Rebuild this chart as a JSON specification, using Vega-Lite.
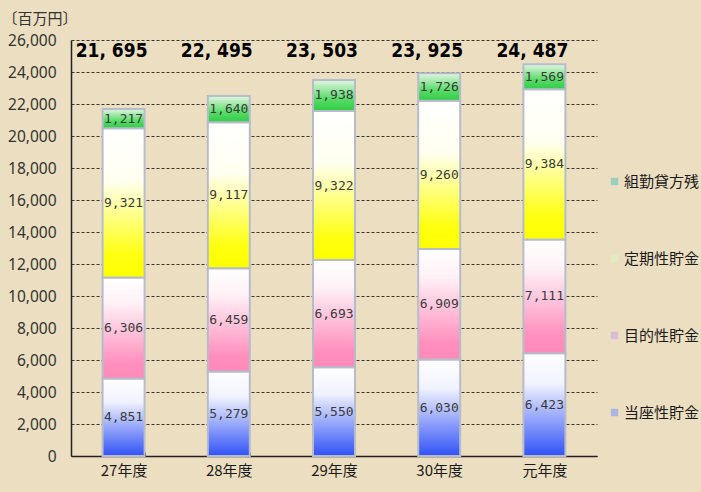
{
  "$schema": "https://vega.github.io/schema/vega-lite/v6.json",
  "width": 526,
  "height": 416,
  "autosize": {"type": "none"},
  "padding": {"left": 71, "top": 40, "right": 104, "bottom": 36},
  "background": "#ecdfc1",
  "config": {
    "view": {"stroke": null},
    "font": "Noto Sans CJK JP",
    "axisY": {
      "titleAngle": 0, "titleAlign": "left", "titleBaseline": "middle",
      "titleX": -69, "titleY": -22, "titleFontSize": 15, "titleFontWeight": "normal", "titleColor": "#333",
      "labelFontSize": 15.5, "labelColor": "#333", "labelFont": "Noto Sans",
      "labelPadding": 15, "ticks": false,
      "grid": true, "gridColor": "#222", "gridDash": [3, 2], "gridWidth": 1, "gridOpacity": 0.9,
      "domainColor": "#222", "domainWidth": 1.5
    }
  },
  "datasets": {
    "seg": [
      {"year": "27年度", "series": "当座性貯金", "k": 1, "value": 4851},
      {"year": "27年度", "series": "目的性貯金", "k": 2, "value": 6306},
      {"year": "27年度", "series": "定期性貯金", "k": 3, "value": 9321},
      {"year": "27年度", "series": "組勤貸方残", "k": 4, "value": 1217},
      {"year": "28年度", "series": "当座性貯金", "k": 1, "value": 5279},
      {"year": "28年度", "series": "目的性貯金", "k": 2, "value": 6459},
      {"year": "28年度", "series": "定期性貯金", "k": 3, "value": 9117},
      {"year": "28年度", "series": "組勤貸方残", "k": 4, "value": 1640},
      {"year": "29年度", "series": "当座性貯金", "k": 1, "value": 5550},
      {"year": "29年度", "series": "目的性貯金", "k": 2, "value": 6693},
      {"year": "29年度", "series": "定期性貯金", "k": 3, "value": 9322},
      {"year": "29年度", "series": "組勤貸方残", "k": 4, "value": 1938},
      {"year": "30年度", "series": "当座性貯金", "k": 1, "value": 6030},
      {"year": "30年度", "series": "目的性貯金", "k": 2, "value": 6909},
      {"year": "30年度", "series": "定期性貯金", "k": 3, "value": 9260},
      {"year": "30年度", "series": "組勤貸方残", "k": 4, "value": 1726},
      {"year": "元年度", "series": "当座性貯金", "k": 1, "value": 6423},
      {"year": "元年度", "series": "目的性貯金", "k": 2, "value": 7111},
      {"year": "元年度", "series": "定期性貯金", "k": 3, "value": 9384},
      {"year": "元年度", "series": "組勤貸方残", "k": 4, "value": 1569}
    ],
    "totals": [
      {"year": "27年度", "total": 21695, "label": "21, 695"},
      {"year": "28年度", "total": 22495, "label": "22, 495"},
      {"year": "29年度", "total": 23503, "label": "23, 503"},
      {"year": "30年度", "total": 23925, "label": "23, 925"},
      {"year": "元年度", "total": 24487, "label": "24, 487"}
    ]
  },
  "layer": [
    {
      "data": {"name": "seg"},
      "transform": [
        {"stack": "value", "groupby": ["year"], "sort": [{"field": "k", "order": "ascending"}], "as": ["s0", "s1"]}
      ],
      "encoding": {
        "x": {
          "field": "year", "type": "nominal", "sort": null,
          "scale": {"paddingInner": 0.6, "paddingOuter": 0.3},
          "axis": {
            "title": null, "labelAngle": 0, "labelFontSize": 15, "labelColor": "#1a1a1a",
            "labelPadding": 11, "domainColor": "#222", "domainWidth": 1.5,
            "ticks": true, "tickBand": "extent", "tickSize": -4, "tickColor": "#333",
            "labelFont": "Noto Sans CJK JP"
          }
        },
        "y": {
          "field": "s0", "type": "quantitative", "title": "〔百万円〕",
          "scale": {"domain": [0, 26000], "nice": false},
          "axis": {"labelExpr": "format(datum.value, ',')", "values": [0, 2000, 4000, 6000, 8000, 10000, 12000, 14000, 16000, 18000, 20000, 22000, 24000, 26000]}
        },
        "y2": {"field": "s1"}
      },
      "layer": [
        {
          "transform": [{"filter": "datum.k == 1"}],
          "mark": {
            "type": "bar", "width": 42, "stroke": "#b6bccb", "strokeWidth": 2,
            "color": {"gradient": "linear", "x1": 0, "y1": 0, "x2": 0, "y2": 1,
              "stops": [{"offset": 0, "color": "#ffffff"}, {"offset": 0.3, "color": "#f0f2ff"}, {"offset": 1, "color": "#3152f6"}]}
          }
        },
        {
          "transform": [{"filter": "datum.k == 2"}],
          "mark": {
            "type": "bar", "width": 42, "stroke": "#b6bccb", "strokeWidth": 2,
            "color": {"gradient": "linear", "x1": 0, "y1": 0, "x2": 0, "y2": 1,
              "stops": [{"offset": 0, "color": "#ffffff"}, {"offset": 0.25, "color": "#fff2f7"}, {"offset": 0.85, "color": "#ff8fbd"}, {"offset": 1, "color": "#ff8ab8"}]}
          }
        },
        {
          "transform": [{"filter": "datum.k == 3"}],
          "mark": {
            "type": "bar", "width": 42, "stroke": "#b6bccb", "strokeWidth": 2,
            "color": {"gradient": "linear", "x1": 0, "y1": 0, "x2": 0, "y2": 1,
              "stops": [{"offset": 0, "color": "#ffffff"}, {"offset": 0.35, "color": "#fffff0"}, {"offset": 0.85, "color": "#ffff10"}, {"offset": 1, "color": "#ffff00"}]}
          }
        },
        {
          "transform": [{"filter": "datum.k == 4"}],
          "mark": {
            "type": "bar", "width": 42, "stroke": "#b6bccb", "strokeWidth": 2,
            "color": {"gradient": "linear", "x1": 0, "y1": 0, "x2": 0, "y2": 1,
              "stops": [{"offset": 0, "color": "#e4f6e4"}, {"offset": 0.6, "color": "#5bdc6a"}, {"offset": 1, "color": "#2fcc45"}]}
          }
        },
        {
          "transform": [{"calculate": "(datum.s0 + datum.s1) / 2", "as": "mid"}],
          "mark": {"type": "text", "fontSize": 13, "color": "#3a3a3a", "font": "DejaVu Sans Mono", "baseline": "middle"},
          "encoding": {
            "y": {"field": "mid", "type": "quantitative", "title": "〔百万円〕",
              "axis": {"labelExpr": "format(datum.value, ',')", "values": [0, 2000, 4000, 6000, 8000, 10000, 12000, 14000, 16000, 18000, 20000, 22000, 24000, 26000]}},
            "y2": null,
            "text": {"field": "value", "type": "quantitative", "format": ","}
          }
        },
        {
          "mark": {"type": "point", "shape": "square", "filled": true, "opacity": 1, "size": 0},
          "encoding": {
            "y2": null,
            "color": {
              "field": "series", "type": "nominal",
              "scale": {
                "domain": ["組勤貸方残", "定期性貯金", "目的性貯金", "当座性貯金"],
                "range": ["#9ccfc0", "#dfecc0", "#d8bcd8", "#a9b6de"]
              },
              "legend": {
                "title": null, "orient": "none", "legendX": 536, "legendY": 134,
                "symbolType": "square", "symbolSize": 55, "symbolOpacity": 1, "symbolStrokeWidth": 0,
                "labelFontSize": 15, "labelColor": "#1a1a1a", "labelFont": "Noto Sans CJK JP",
                "rowPadding": 61, "labelOffset": 2
              }
            }
          }
        }
      ]
    },
    {
      "data": {"name": "totals"},
      "mark": {"type": "text", "fontSize": 19, "fontWeight": "bold", "font": "DejaVu Sans Condensed", "color": "#000", "dx": -12, "baseline": "middle"},
      "encoding": {
        "x": {"field": "year", "type": "nominal", "sort": null},
        "y": {"datum": 25300, "type": "quantitative", "title": "〔百万円〕",
          "axis": {"labelExpr": "format(datum.value, ',')", "values": [0, 2000, 4000, 6000, 8000, 10000, 12000, 14000, 16000, 18000, 20000, 22000, 24000, 26000]}},
        "text": {"field": "label"}
      }
    }
  ]
}
